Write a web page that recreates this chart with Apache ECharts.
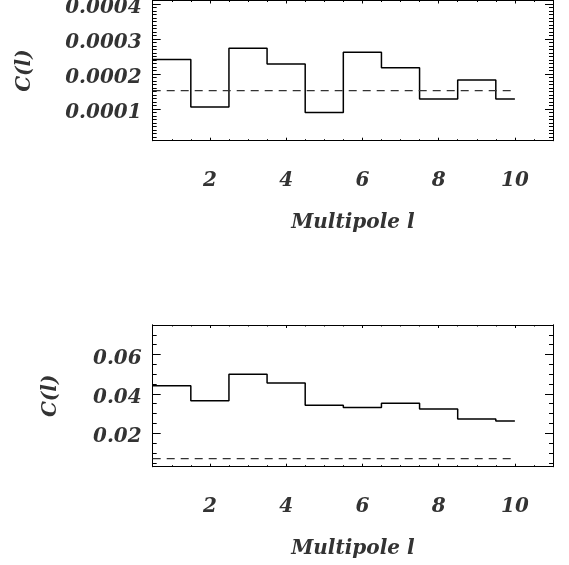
<!DOCTYPE html>
<html>
<head>
<meta charset="utf-8">
<script src="https://cdn.jsdelivr.net/npm/echarts@6/dist/echarts.min.js"></script>
<style>html,body{margin:0;padding:0;background:#fff;}#chart{width:569px;height:565px;}</style>
</head>
<body>
<div id="chart"></div>
<script>
// ---- data ----
const multipole = [1, 2, 3, 4, 5, 6, 7, 8, 9, 10];
const clTop = [0.000242, 0.0001065, 0.0002735, 0.000229, 0.0000903, 0.0002622, 0.0002183, 0.0001293, 0.0001834, 0.0001293];
const meanTop = 0.0001529;
const clBottom = [0.0441, 0.0365, 0.0500, 0.0455, 0.0342, 0.0331, 0.0352, 0.0323, 0.0273, 0.0262];
const meanBottom = 0.0071;
const xTickLabels = [2, 4, 6, 8, 10];
const yTickLabelsTop = [0.0001, 0.0002, 0.0003, 0.0004];
const yTickLabelsBottom = [0.02, 0.04, 0.06];
const xTitle = 'Multipole l';
const yTitle = 'C(l)';

// ---- tick positions (minor ticks) ----
function steps(step, k0, k1) { const o = []; for (let k = k0; k <= k1 + 1e-9; k++) o.push(+(k * step).toPrecision(6)); return o; }
const xMinor = steps(0.5, 1, 22);
const yMinorTop = steps(0.00001, 1, 41);
const yMinorBottom = steps(0.005, 1, 15);

const font = { fontFamily: 'DejaVu Serif', fontWeight: 'bold', fontStyle: 'italic', fontSize: 20, color: '#333' };
const lineBlack = { color: '#000', width: 1 };

function axis(grid, pos, min, max, ticks, len, extra) {
  return Object.assign({
    type: 'value', gridIndex: grid, position: pos, min: min, max: max,
    axisLine: { show: true, onZero: false, lineStyle: lineBlack },
    axisTick: { show: true, inside: true, length: len, customValues: ticks, lineStyle: lineBlack },
    axisLabel: { show: false },
    splitLine: { show: false }
  }, extra || {});
}

function buildStep(vals) {
  const pts = multipole.map((l, i) => [l - 0.5, vals[i]]);
  pts.push([multipole[multipole.length - 1], vals[vals.length - 1]]);
  return pts;
}

const xMin = 0.5, xMax = 11;
const grids = [
  { left: 152.7, right: 16, top: 0.5, height: 140.2, containLabel: false, outerBoundsMode: 'none' },
  { left: 152.7, right: 16, top: 325, height: 141.7, containLabel: false, outerBoundsMode: 'none' }
];
const yRanges = [[0.00001, 0.00041], [0.003, 0.075]];
const yMinors = [yMinorTop, yMinorBottom];
const yMajors = [yTickLabelsTop, yTickLabelsBottom];
const yNameGaps = [118, 92];

const xAxis = [], yAxis = [], series = [];
[0, 1].forEach(g => {
  const xMainIdx = xAxis.length;
  xAxis.push(axis(g, 'bottom', xMin, xMax, xTickLabels, 3, {
    axisLabel: Object.assign({ show: true, customValues: xTickLabels, margin: 30, lineHeight: 20 }, font),
    name: xTitle, nameLocation: 'middle', nameGap: 71,
    nameTextStyle: Object.assign({ lineHeight: 22 }, font)
  }));
  xAxis.push(axis(g, 'bottom', xMin, xMax, xMinor, 1.5));
  xAxis.push(axis(g, 'top', xMin, xMax, xTickLabels, 3));
  xAxis.push(axis(g, 'top', xMin, xMax, xMinor, 1.5));

  const yMainIdx = yAxis.length;
  const yr = yRanges[g];
  yAxis.push(axis(g, 'left', yr[0], yr[1], yMajors[g], 8, {
    axisLabel: Object.assign({ show: true, customValues: yMajors[g], margin: 11, lineHeight: 8, verticalAlign: 'top' }, font),
    name: yTitle, nameLocation: 'middle', nameGap: yNameGaps[g], nameRotate: 90,
    nameTextStyle: font
  }));
  yAxis.push(axis(g, 'left', yr[0], yr[1], yMinors[g], 4));
  yAxis.push(axis(g, 'right', yr[0], yr[1], yMajors[g], 8));
  yAxis.push(axis(g, 'right', yr[0], yr[1], yMinors[g], 4));

  const vals = g === 0 ? clTop : clBottom;
  const mean = g === 0 ? meanTop : meanBottom;
  series.push({
    type: 'line', xAxisIndex: xMainIdx, yAxisIndex: yMainIdx, step: 'end',
    data: buildStep(vals), symbol: 'none', silent: true, animation: false,
    lineStyle: { color: '#000', width: 1.5 }
  });
  series.push({
    type: 'line', xAxisIndex: xMainIdx, yAxisIndex: yMainIdx,
    data: [[multipole[0] - 0.5, mean], [multipole[multipole.length - 1], mean]],
    symbol: 'none', silent: true, animation: false,
    lineStyle: { color: '#333', width: 1.3, type: [8, 6] }
  });
});

const chart = echarts.init(document.getElementById('chart'), null, { renderer: 'canvas' });
chart.setOption({
  animation: false,
  backgroundColor: '#fff',
  grid: grids,
  xAxis: xAxis,
  yAxis: yAxis,
  series: series
});
</script>
</body>
</html>
